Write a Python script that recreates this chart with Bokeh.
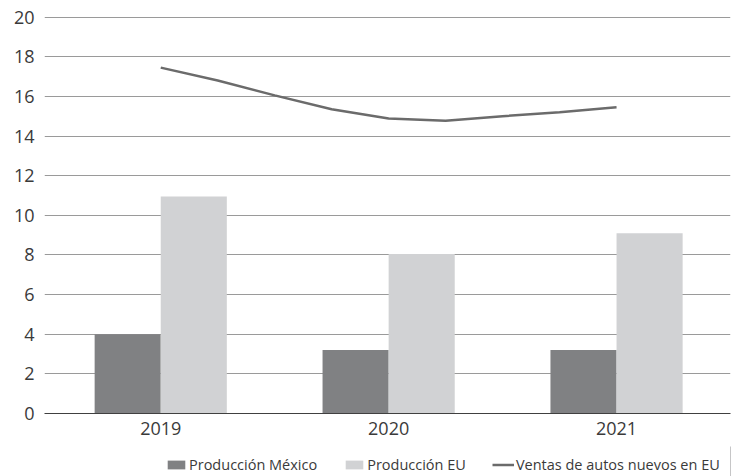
from bokeh.plotting import figure
from bokeh.layouts import column
from bokeh.models import ColumnDataSource, FixedTicker, Legend, LegendItem, Range1d
from bokeh.transform import dodge
from bokeh.embed import file_html
from bokeh.resources import INLINE

years = [2019, 2020, 2021]
year_labels = ["2019", "2020", "2021"]
produccion_mexico = [4.0, 3.2, 3.2]
produccion_eu = [10.95, 8.05, 9.1]

# quarterly positions for US new car sales
ventas_x = [2019.0, 2019.25, 2019.5, 2019.75, 2020.0, 2020.25, 2020.5, 2020.75, 2021.0]
ventas_eu = [17.45, 16.8, 16.05, 15.35, 14.88, 14.77, 15.0, 15.2, 15.45]

FONT = "Open Sans"
TXT = "#3a3a3a"
C_MX = "#808183"
C_EU = "#d1d2d4"
C_LINE = "#6b6b6b"

src = ColumnDataSource(dict(year=years, mx=produccion_mexico, eu=produccion_eu))
line_src = ColumnDataSource(dict(x=ventas_x, y=ventas_eu))

p = figure(width=736, height=446, output_backend="svg", toolbar_location=None,
           x_range=Range1d(2018.49, 2021.5), y_range=Range1d(0, 20.03),
           min_border_left=44, min_border_right=6, min_border_top=16, min_border_bottom=33)
p.outline_line_color = None
p.background_fill_color = "white"

bw = 0.29
p.vbar(x=dodge("year", -bw / 2, range=p.x_range), top="mx", width=bw, bottom=0,
       source=src, fill_color=C_MX, line_color=None)
p.vbar(x=dodge("year", bw / 2, range=p.x_range), top="eu", width=bw, bottom=0,
       source=src, fill_color=C_EU, line_color=None)
p.line(x="x", y="y", source=line_src, line_color=C_LINE, line_width=2.5)

# axes
p.xaxis.ticker = FixedTicker(ticks=years)
p.xaxis.major_label_overrides = {y: l for y, l in zip(years, year_labels)}
p.xaxis.axis_line_color = "#404040"
p.xaxis.axis_line_width = 1.2
p.xaxis.major_tick_line_color = None
p.xaxis.minor_tick_line_color = None
p.xaxis.major_tick_out = 0
p.xaxis.major_tick_in = 0
p.xaxis.minor_tick_out = 0
p.xaxis.minor_tick_in = 0
p.xaxis.major_label_text_font = FONT
p.xaxis.major_label_text_font_size = "18px"
p.xaxis.major_label_text_color = TXT
p.xaxis.major_label_standoff = 8

p.yaxis.ticker = FixedTicker(ticks=list(range(0, 21, 2)))
p.yaxis.axis_line_color = None
p.yaxis.major_tick_line_color = None
p.yaxis.minor_tick_line_color = None
p.yaxis.major_tick_out = 0
p.yaxis.major_tick_in = 0
p.yaxis.minor_tick_out = 0
p.yaxis.major_label_text_font = FONT
p.yaxis.major_label_text_font_size = "18px"
p.yaxis.major_label_text_color = TXT
p.yaxis.major_label_standoff = 10

p.xgrid.grid_line_color = None
p.ygrid.ticker = FixedTicker(ticks=list(range(2, 21, 2)))
p.ygrid.grid_line_color = "#9a9a9a"
p.ygrid.grid_line_width = 1

# legend strip below the chart (same series, drawn out of view so only the legend shows)
lf = figure(width=736, height=30, output_backend="svg", toolbar_location=None,
            x_range=Range1d(0, 1), y_range=Range1d(0, 1),
            x_axis_location=None, y_axis_location=None,
            min_border_left=0, min_border_right=0, min_border_top=0, min_border_bottom=0)
lf.outline_line_color = None
lf.xgrid.visible = False
lf.ygrid.visible = False
l1 = lf.vbar(x=dodge("year", -bw / 2, range=lf.x_range), top="mx", width=bw, bottom=0,
             source=src, fill_color=C_MX, line_color=None)
l2 = lf.vbar(x=dodge("year", bw / 2, range=lf.x_range), top="eu", width=bw, bottom=0,
             source=src, fill_color=C_EU, line_color=None)
l3 = lf.line(x="x", y="y", source=line_src, line_color=C_LINE, line_width=2.5)

legend = Legend(items=[
    LegendItem(label="Producción México", renderers=[l1]),
    LegendItem(label="Producción EU", renderers=[l2]),
    LegendItem(label="Ventas de autos nuevos en EU", renderers=[l3]),
], orientation="horizontal", location=(121, 2))
legend.label_text_font = FONT
legend.label_text_font_size = "14.5px"
legend.label_text_color = TXT
legend.border_line_color = None
legend.background_fill_alpha = 0
legend.glyph_width = 22
legend.glyph_height = 11
legend.label_standoff = 2
legend.spacing = 26
legend.padding = 2
legend.margin = 0
lf.add_layout(legend, "center")

layout = column(p, lf, spacing=0)
open("out.html", "w").write(file_html(layout, INLINE))
